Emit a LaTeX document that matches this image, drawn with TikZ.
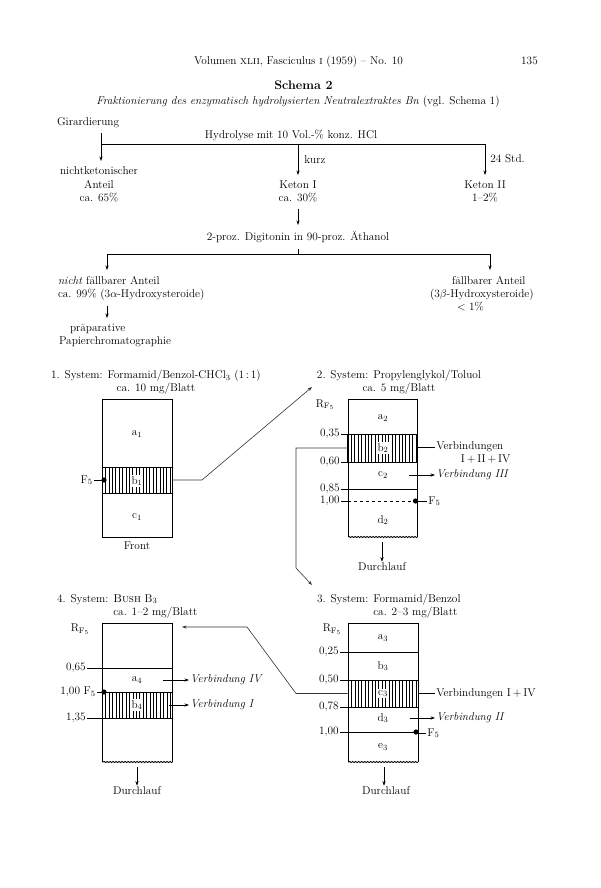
\documentclass[tikz,border=0pt]{standalone}
\usetikzlibrary{arrows.meta, positioning, decorations.pathmorphing}

\begin{document}
\fontsize{11.3}{13.2}\selectfont
\begin{tikzpicture}[x=1pt, y=-1pt, line width=0.6pt,
    every node/.style={inner sep=1pt},
    flow/.style={inner sep=1pt, outer sep=5pt},
    arr/.style={-{Stealth[length=4.5pt, width=3.2pt]}},
    link/.style={black!80},
    sheet/.style={line width=1pt},
    hatch/.style={draw, inner sep=0pt, minimum width=70pt,
        path picture={\foreach \k in {1,...,20}
            \draw[line width=0.5pt] ([xshift=\k*3.4pt]path picture bounding box.north west)
                -- ([xshift=\k*3.4pt]path picture bounding box.south west);}},
    gap/.style={fill=white, inner sep=0.8pt},
    wavy/.style={line width=0.8pt, decorate, decoration={snake, amplitude=0.6pt, segment length=3pt}}]
\useasboundingbox (0,0) rectangle (600,888);

% Header
\node[anchor=base] (head) at (298.5,65) {Volumen \textsc{xlii}, Fasciculus \textsc{i} (1959) -- No. 10};
\node[anchor=base] (pageno) at (529.5,65) {135};
\node[anchor=base, font=\fontsize{12.5}{14}\selectfont\bfseries] (schema) at (303.5,89.5) {Schema 2};
\node[anchor=base] (subtitle) at (298,105) {\textit{Fraktionierung des enzymatisch hydrolysierten Neutralextraktes Bn} (vgl. Schema 1)};

% Girardierung / Hydrolyse
\node[flow, anchor=base west] (girard) at (51,125) {Girardierung};
\coordinate (hl) at (101,144);
\coordinate (hm) at (298,144);
\coordinate (hr) at (485,144);
\node[anchor=base] (hydro) at (291,138.5) {Hydrolyse mit 10 Vol.-\% konz. HCl};
\node[anchor=base west] (kurz) at (303,163.5) {kurz};
\node[anchor=base west] (std) at (489,162) {24 Std.};
\node[flow, anchor=north, align=center] (nonket) at (99,161) {nichtketonischer\\Anteil\\ca. 65\%};
\node[flow, anchor=north, align=center] (keton1) at (298,175) {Keton I\\ca. 30\%};
\node[flow, anchor=north, align=center] (keton2) at (485,175) {Keton II\\1--2\%};
\draw (hl) -- (hr);
\draw[arr] (girard.south -| hl) -- (nonket.north -| hl);
\draw[arr] (hm) -- (keton1.north);
\draw[arr] (hr) -- (keton2.north);

% Digitonin
\node[flow, anchor=north] (digi) at (298,225) {2-proz. Digitonin in 90-proz. Äthanol};
\draw[arr] (keton1.south) -- (digi.north);
\coordinate (dl) at (107,254);
\coordinate (dr) at (490,254);
\draw (digi.south) -- (digi.south |- dl);
\draw (dl) -- (dr);
\node[flow, anchor=north west, align=left] (nofall) at (52,270) {\textit{nicht} fällbarer Anteil\\ca. 99\% (3$\alpha$-Hydroxysteroide)};
\node[flow, anchor=north west, align=left] (fall) at (424,270) {\hspace*{22pt}fällbarer Anteil\\(3$\beta$-Hydroxysteroide)\\\hspace*{27pt}$<$ 1\%};
\draw[arr] (dl) -- (dl |- nofall.north);
\draw[arr] (dr) -- (dr |- fall.north);
\node[flow, anchor=north west, align=left] (papier) at (53,318) {\hspace*{11pt}präparative\\Papierchromatographie};
\draw[arr] (nofall.south -| dl) -- (papier.north -| dl);

% System 1
\node[anchor=north, align=center] (sys1) at (156,368.7) {1. System: Formamid/Benzol-CHCl$_3$ (1\,:\,1)\\ca. 10 mg/Blatt};
\node[draw, sheet, minimum width=70pt, minimum height=138pt, inner sep=0pt] (sheet1) at (137,468) {};
\node[hatch, minimum height=26pt] (band1) at (137,480) {};
\node (a1) at (137,434) {a$_1$};
\node[gap] (b1) at (137,481) {b$_1$};
\node (c1) at (137,517) {c$_1$};
\node (front) at (137,546) {Front};
\fill (104,480) circle (2.6pt);
\node[anchor=east] (f1) at (94,480) {F$_5$};
\draw (f1.east) -- (f1 -| sheet1.west);

% System 1 -> 2
\coordinate (in2) at (312,387);
\draw[link, arr] (band1.east) -- (202,480) -- (in2);

% System 2
\node[anchor=north, align=center] (sys2) at (399,368.7) {2. System: Propylenglykol/Toluol\\ca. 5 mg/Blatt};
\coordinate (s2nw) at (348,399);
\coordinate (s2se) at (417.5,537);
\draw[sheet] (s2nw |- s2se) -- (s2nw) -- (s2nw -| s2se) -- (s2se);
\draw[wavy] (s2se) -- (s2nw |- s2se);
\node[hatch, minimum height=28pt] (band2) at (382.75,448) {};
\draw (348,489) -- (417.5,489);
\draw[dashed] (348,501) -- (417.5,501);
\node[anchor=base] (rf2) at (325,407) {R$_{\mathrm{F}_5}$};
\foreach \v/\y in {{0,35}/434, {0,60}/462, {0,85}/489, {1,00}/501} {
    \node[anchor=east] (t2-\y) at (341,\y) {\v};
    \draw (t2-\y.east) -- (348,\y);
}
\node (a2) at (383,418) {a$_2$};
\node[gap] (b2) at (383,448) {b$_2$};
\node (c2) at (383,475) {c$_2$};
\node (d2) at (383,520) {d$_2$};
\node[anchor=west] (vb2) at (435,447) {Verbindungen};
\node[anchor=north east] (vb2b) at ([xshift=7pt]vb2.south east) {I\,+\,II\,+\,IV};
\draw (vb2 -| s2se) -- (vb2.west);
\node[anchor=west] (v3) at (435,475) {\textit{Verbindung III}};
\draw[arr] ([xshift=20pt]c2.east) -- (v3.west);
\fill (415.5,501) circle (2.6pt);
\node[anchor=west] (f2) at (427,501) {F$_5$};
\draw (f2.west) -- (f2 -| s2se);
\coordinate (s2b) at (382,542);
\node (dl2) at (382,567) {Durchlauf};
\draw[arr] (s2b) -- (dl2);

% System 2 -> 3
\coordinate (in3) at (312,585);
\draw[link, arr] (band2.west) -- (296,448) -- (296,568) -- (in3);

% System 3
\node[anchor=north west, align=left] (sys3) at (315.7,593) {3. System: Formamid/Benzol\\\hphantom{3. System: }ca. 2--3 mg/Blatt};
\coordinate (s3nw) at (348,623);
\coordinate (s3se) at (418,762);
\draw[sheet] (s3nw |- s3se) -- (s3nw) -- (s3nw -| s3se) -- (s3se);
\draw[wavy] (s3se) -- (s3nw |- s3se);
\node[hatch, minimum height=27pt] (band3) at (383,693.5) {};
\draw (348,652) -- (418,652);
\draw (348,732) -- (418,732);
\node[anchor=base] (rf3) at (332,631.5) {R$_{\mathrm{F}_5}$};
\foreach \v/\y in {{0,25}/652, {0,50}/680, {0,78}/707, {1,00}/732} {
    \node[anchor=east] (t3-\y) at (340,\y) {\v};
    \draw (t3-\y.east) -- (348,\y);
}
\node (a3) at (383,638) {a$_3$};
\node (b3) at (383,666) {b$_3$};
\node[gap] (c3) at (383,693.5) {c$_3$};
\node (d3) at (383,718) {d$_3$};
\node (e3) at (383,747) {e$_3$};
\node[anchor=west] (vb3) at (435,693.5) {Verbindungen I\,+\,IV};
\draw (band3.east) -- (vb3.west);
\node[anchor=west] (v2) at (435,718) {\textit{Verbindung II}};
\draw[arr] ([xshift=20pt]d3.east) -- (v2.west);
\fill (416,732) circle (2.6pt);
\node[anchor=west] (f3) at (426,733) {F$_5$};
\draw (f3.west) -- (f3 -| s3se);
\coordinate (s3b) at (384,767);
\node (dl3) at (386,791) {Durchlauf};
\draw[arr] (s3b) -- (dl3.north -| s3b);

% System 3 -> 4
\coordinate (in4) at (182,627);
\draw[link, arr] (band3.west) -- (296,693.5) -- (247,627) -- (in4);

% System 4
\node[anchor=north west, align=left] (sys4) at (55.7,593) {4. System: \textsc{Bush} B$_3$\\\hphantom{4. System: }ca. 1--2 mg/Blatt};
\coordinate (s4nw) at (102,623);
\coordinate (s4se) at (172.5,762);
\draw[sheet] (s4nw |- s4se) -- (s4nw) -- (s4nw -| s4se) -- (s4se);
\draw[wavy] (s4se) -- (s4nw |- s4se);
\node[hatch, minimum height=26pt] (band4) at (137.25,705) {};
\draw (102,668) -- (172.5,668);
\node[anchor=base] (rf4) at (80,631.5) {R$_{\mathrm{F}_5}$};
\foreach \v/\y/\x in {{0,65}/668/87, {1,00 F$_5$}/692/97, {1,35}/718/87} {
    \node[anchor=east] (t4-\y) at (\x,\y) {\v};
    \draw (t4-\y.east) -- (102,\y);
}
\fill (104,692) circle (2.6pt);
\node (a4) at (137,680) {a$_4$};
\node[gap] (b4) at (137,705) {b$_4$};
\node[anchor=west] (v4) at (189,680) {\textit{Verbindung IV}};
\draw[arr] ([xshift=20pt]a4.east) -- (v4.west);
\node[anchor=west] (v1) at (189,705) {\textit{Verbindung I}};
\draw[arr] ([xshift=25pt]b4.east) -- (v1.west);
\coordinate (s4b) at (137,767);
\node (dl4) at (137,791) {Durchlauf};
\draw[arr] (s4b) -- (dl4);
\end{tikzpicture}
\end{document}
